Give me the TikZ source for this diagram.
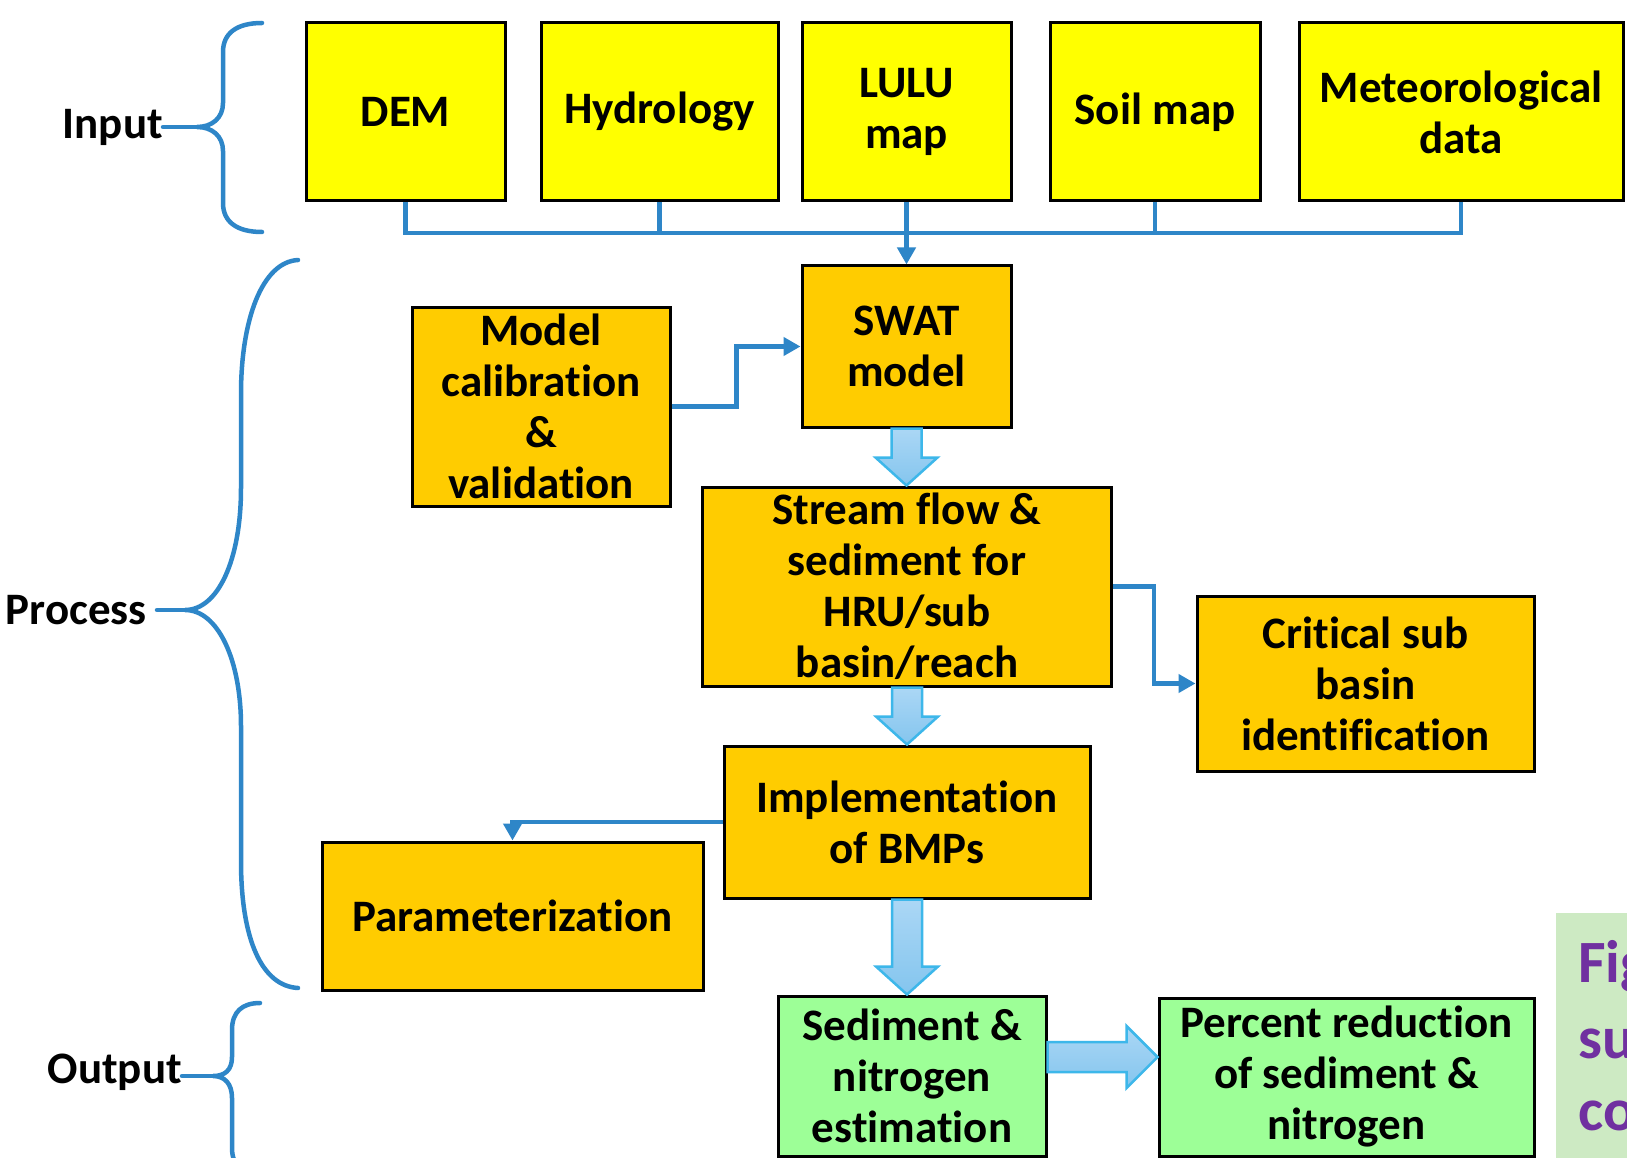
\documentclass[tikz,border=0pt]{standalone}
\usepackage{fontspec}
\setmainfont{Carlito}[Ligatures={NoCommon,NoContextual}]
\usetikzlibrary{arrows.meta,calc}
\definecolor{yel}{HTML}{FFFF00}
\definecolor{org}{HTML}{FFCC00}
\definecolor{grn}{HTML}{9DFF97}
\definecolor{figgreen}{HTML}{CDEAC3}
\definecolor{figpurple}{HTML}{7030A0}
\definecolor{cblue}{HTML}{2E86C8}
\definecolor{arrtop}{HTML}{ABD7F5}
\definecolor{arrbot}{HTML}{84C5EE}
\definecolor{arredge}{HTML}{3DB7EA}
\newcommand\vbigarrow[2]{\path[bigarr] let \p1=(#1.south), \p2=(#2.north) in
 (\x1-15pt,\y1) -- (\x1-15pt,\y2+28pt) -- (\x1-31pt,\y2+28pt) -- (\x1,\y2) -- (\x1+31pt,\y2+28pt) -- (\x1+15pt,\y2+28pt) -- (\x1+15pt,\y1) -- cycle;}
\begin{document}
\begin{tikzpicture}[x=1pt,y=-1pt,
  box/.style={draw=black, line width=3pt, align=center, inner sep=0pt,
    font=\bfseries\fontsize{45}{51}\selectfont},
  ybox/.style={box, fill=yel},
  obox/.style={box, fill=org},
  gbox/.style={box, fill=grn},
  lab/.style={inner sep=0pt, font=\bfseries\fontsize{45}{51}\selectfont},
  figtxt/.style={inner sep=0pt, anchor=base west, text=figpurple, font=\bfseries\fontsize{60}{73}\selectfont},
  cline/.style={draw=cblue, line width=4.5pt},
  carr/.style={cline, -{Triangle[length=17pt,width=18pt]}},
  brace/.style={draw=cblue, line width=4.5pt, line cap=round},
  bigarr/.style={draw=arredge, line width=2.5pt, top color=arrtop, bottom color=arrbot, line join=miter}
]
\path[use as bounding box] (0,0) rectangle (1627,1158);
\clip (0,0) rectangle (1627,1158);
\fill[white] (0,0) rectangle (1627,1158);

% input row
\node[ybox, minimum width=199pt, minimum height=178pt] (dem) at (405.5,112) {DEM};
\node[ybox, minimum width=237pt, minimum height=178pt] (hyd) at (659.5,112) {Hydrology};
\node[ybox, minimum width=209pt, minimum height=178pt] (lulu) at (906.5,112) {LULU\\map};
\node[ybox, minimum width=210pt, minimum height=178pt] (soil) at (1155,112) {Soil map};
\node[ybox, minimum width=324pt, minimum height=178pt] (met) at (1461,112) {Meteorological\\data};

% process
\node[obox, minimum width=209pt, minimum height=161pt] (swat) at (906.5,346.5) {SWAT\\model};
\node[obox, minimum width=258pt, minimum height=199pt] (mc) at (541,406.5) {Model\\calibration\\\&\\validation};
\node[obox, minimum width=409pt, minimum height=199pt] (str) at (907,586.5) {Stream flow \&\\sediment for\\HRU/sub\\basin/reach};
\node[obox, minimum width=337pt, minimum height=175pt] (crit) at (1365.5,683.5) {Critical sub\\basin\\identification};
\node[obox, minimum width=366pt, minimum height=152pt] (impl) at (907,822) {Implementation\\of BMPs};
\node[obox, minimum width=381pt, minimum height=148pt] (par) at (512.5,916) {Parameterization};

% output
\node[gbox, minimum width=268pt, minimum height=160pt] (sed) at (912,1076) {Sediment \&\\nitrogen\\estimation};
\node[gbox, minimum width=375pt, minimum height=158pt] (pct) at (1346.5,1077) {Percent reduction\\of sediment \&\\nitrogen};

% figure caption fragment
\node[fill=figgreen, inner sep=0pt, minimum width=120pt, minimum height=260pt, anchor=north west] (figbox) at (1556,913) {};
\node[figtxt] (f1) at (1578,982) {Fig};
\node[figtxt] (f2) at (1578,1058) {su};
\node[figtxt] (f3) at (1578,1130) {co};

% connectors
\coordinate (bus) at (906.5,233);
\draw[cline] (dem.south) -- (dem.south |- bus) -- (met.south |- bus) -- (met.south);
\draw[cline] (hyd.south) -- (hyd.south |- bus);
\draw[cline] (soil.south) -- (soil.south |- bus);
\draw[carr] (lulu.south) -- (swat.north);
\draw[carr] (mc.east) -- ++(65,0) |- (swat.west);
\draw[carr] (str.east) -- ++(41,0) |- (crit.west);
\draw[carr] (impl.west) -| (par.north);

% big arrows
\vbigarrow{swat}{str}
\vbigarrow{str}{impl}
\vbigarrow{impl}{sed}
\path[bigarr] let \p1=(sed.east), \p2=(pct.west), \p3=(0,1057) in
  (\x1,\y3+15pt) -- (\x2-31pt,\y3+15pt) -- (\x2-31pt,\y3+31pt) -- (\x2,\y3) -- (\x2-31pt,\y3-31pt) -- (\x2-31pt,\y3-15pt) -- (\x1,\y3-15pt) -- cycle;

% labels and braces
\node[lab, anchor=east] (inp) at (163,127) {Input};
\node[lab, anchor=east] (proc) at (147,610) {Process};
\node[lab, anchor=east] (outp) at (182,1072) {Output};

\draw[brace] (262,23) .. controls (237,23) and (223,33) .. (223,52) -- (223,103)
  .. controls (223,118) and (212,127) .. (197,127)
  .. controls (212,127) and (223,136) .. (223,151) -- (223,203)
  .. controls (223,222) and (237,232) .. (262,232);
\draw[brace] (inp.east) -- (197,127);

\draw[brace] (298,260) .. controls (262,262) and (241,320) .. (241,394) -- (241,488)
  .. controls (241,560) and (218,610) .. (185,610)
  .. controls (218,610) and (241,660) .. (241,726) -- (241,861)
  .. controls (241,940) and (262,986) .. (298,988);
\draw[brace] (157,610) -- (185,610);

\draw[brace] (260,1003) .. controls (242,1003) and (232,1012) .. (232,1030) -- (232,1057)
  .. controls (232,1070) and (225,1076) .. (213,1076)
  .. controls (225,1076) and (232,1084) .. (232,1098) -- (232,1148)
  .. controls (232,1165) and (242,1175) .. (260,1175);
\draw[brace] (outp.east |- 0,1076) -- (213,1076);
\end{tikzpicture}
\end{document}
